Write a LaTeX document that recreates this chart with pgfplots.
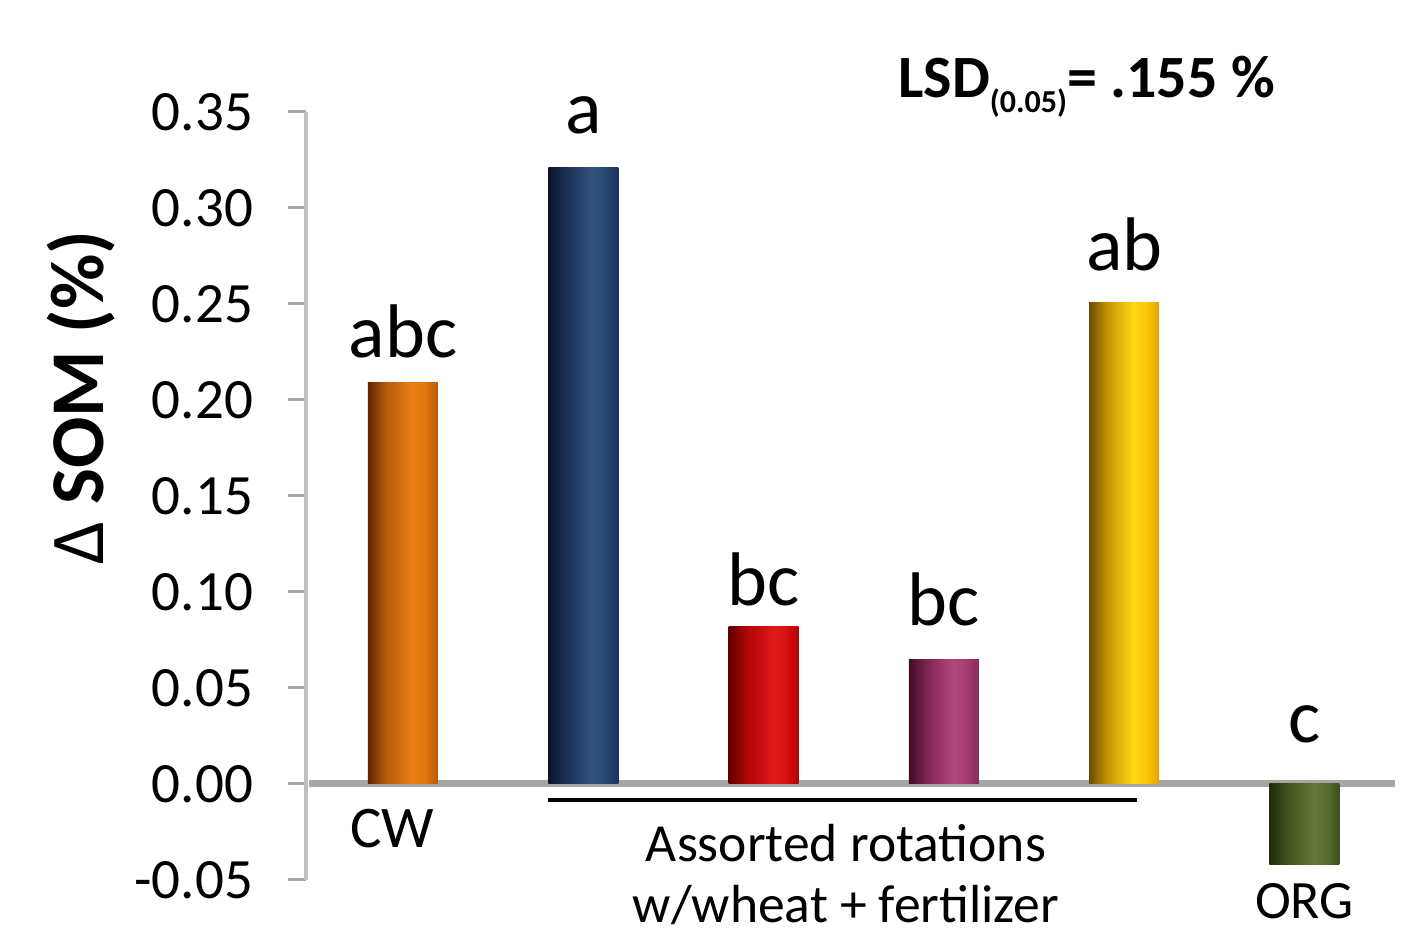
\documentclass[border=0pt]{standalone}
\usepackage{pgfplots}
\pgfplotsset{compat=1.18}
\usepackage{fontspec}
\setmainfont{Carlito}

\pgfdeclarehorizontalshading{shOrange}{100bp}{rgb(0bp)=(0.38,0.15,0.0); rgb(25bp)=(0.38,0.15,0.0); rgb(38bp)=(0.72,0.36,0.04); rgb(57bp)=(0.92,0.50,0.09); rgb(66bp)=(0.88,0.46,0.05); rgb(75bp)=(0.72,0.34,0.0); rgb(100bp)=(0.72,0.34,0.0)}
\pgfdeclarehorizontalshading{shNavy}{100bp}{rgb(0bp)=(0.04,0.08,0.16); rgb(25bp)=(0.04,0.08,0.16); rgb(38bp)=(0.10,0.19,0.33); rgb(57bp)=(0.20,0.33,0.50); rgb(66bp)=(0.16,0.28,0.44); rgb(75bp)=(0.10,0.20,0.36); rgb(100bp)=(0.10,0.20,0.36)}
\pgfdeclarehorizontalshading{shRed}{100bp}{rgb(0bp)=(0.38,0.0,0.0); rgb(25bp)=(0.38,0.0,0.0); rgb(38bp)=(0.68,0.02,0.02); rgb(57bp)=(0.88,0.10,0.10); rgb(66bp)=(0.84,0.06,0.06); rgb(75bp)=(0.72,0.0,0.0); rgb(100bp)=(0.72,0.0,0.0)}
\pgfdeclarehorizontalshading{shPurple}{100bp}{rgb(0bp)=(0.25,0.05,0.15); rgb(25bp)=(0.25,0.05,0.15); rgb(38bp)=(0.50,0.15,0.32); rgb(57bp)=(0.70,0.28,0.48); rgb(66bp)=(0.64,0.24,0.43); rgb(75bp)=(0.53,0.17,0.35); rgb(100bp)=(0.53,0.17,0.35)}
\pgfdeclarehorizontalshading{shYellow}{100bp}{rgb(0bp)=(0.42,0.30,0.0); rgb(25bp)=(0.42,0.30,0.0); rgb(38bp)=(0.78,0.58,0.0); rgb(57bp)=(1.0,0.85,0.10); rgb(66bp)=(0.98,0.78,0.02); rgb(75bp)=(0.88,0.64,0.0); rgb(100bp)=(0.88,0.64,0.0)}
\pgfdeclarehorizontalshading{shOlive}{100bp}{rgb(0bp)=(0.13,0.17,0.05); rgb(25bp)=(0.13,0.17,0.05); rgb(38bp)=(0.26,0.32,0.13); rgb(57bp)=(0.40,0.47,0.23); rgb(66bp)=(0.35,0.42,0.19); rgb(75bp)=(0.24,0.31,0.10); rgb(100bp)=(0.24,0.31,0.10)}

\begin{document}
\begin{tikzpicture}
\useasboundingbox (0,0) rectangle (710pt,473pt);
\begin{axis}[
  at={(153pt,33pt)}, anchor=south west,
  scale only axis, width=544.5pt, height=384pt,
  xmin=-0.538, xmax=5.502, ymin=-0.05, ymax=0.35,
  axis x line=none, axis y line=left,
  axis line style={-, draw=black!25, line width=2pt},
  ytick={-0.05,0,0.05,0.1,0.15,0.2,0.25,0.3,0.35},
  tick align=outside, major tick length=9pt,
  major tick style={draw=black!35, line width=1.5pt},
  yticklabel style={font=\fontsize{28.5}{30}\selectfont, xshift=-14pt, /pgf/number format/assume math mode=true, /pgf/number format/fixed, /pgf/number format/fixed zerofill, /pgf/number format/precision=2},
  ylabel={\textmd{Δ} \textbf{SOM (\%)}},
  ylabel style={font=\fontsize{38}{40}\selectfont, at={(axis description cs:-0.207,0.628)}, anchor=center, rotate=0},
  clip=false,
]
\draw[draw=black!35, line width=3.5pt] (axis cs:-0.52,0) -- (axis cs:5.502,0);
\addplot[ybar, bar width=35pt, bar shift=0pt, draw=none, shading=shOrange] coordinates {(0,0.209)};
\addplot[ybar, bar width=35pt, bar shift=0pt, draw=none, shading=shNavy] coordinates {(1,0.321)};
\addplot[ybar, bar width=35pt, bar shift=0pt, draw=none, shading=shRed] coordinates {(2,0.082)};
\addplot[ybar, bar width=35pt, bar shift=0pt, draw=none, shading=shPurple] coordinates {(3,0.065)};
\addplot[ybar, bar width=35pt, bar shift=0pt, draw=none, shading=shYellow] coordinates {(4,0.251)};
\addplot[ybar, bar width=35pt, bar shift=0pt, draw=none, shading=shOlive] coordinates {(5,-0.042)};

\tikzset{lett/.style={anchor=base, font=\fontsize{38}{40}\selectfont, inner sep=0pt}}
\node[lett] at (axis cs:0,0.2219) {abc};
\node[lett] at (axis cs:1,0.339) {a};
\node[lett] at (axis cs:2,0.0932) {bc};
\node[lett] at (axis cs:3,0.0828) {bc};
\node[lett] at (axis cs:4,0.2677) {ab};
\node[lett] at (axis cs:5,0.0214) {c};

\node[anchor=base, inner sep=0pt, font=\fontsize{29.5}{30}\selectfont] at (axis cs:-0.06,-0.0333) {CW};
\node[anchor=base, inner sep=0pt, font=\fontsize{27}{28}\selectfont] at (axis cs:5,-0.0698) {ORG};
\node[anchor=base, inner sep=0pt, font=\fontsize{26.8}{28}\selectfont] at (axis cs:2.457,-0.0406) {Assorted rotations};
\node[anchor=base, inner sep=0pt, font=\fontsize{26.8}{28}\selectfont] at (axis cs:2.457,-0.0719) {w/wheat + fertilizer};
\draw[black, line width=2pt] (axis cs:0.804,-0.0083) -- (axis cs:4.071,-0.0083);

\node[anchor=base west, inner sep=0pt, font=\fontsize{30}{32}\selectfont\bfseries] at (axis cs:2.745,0.3578) {LSD{\fontsize{16}{16}\selectfont\raisebox{-7.5pt}{(0.05)}}= .155 \%};
\end{axis}
\end{tikzpicture}
\end{document}
